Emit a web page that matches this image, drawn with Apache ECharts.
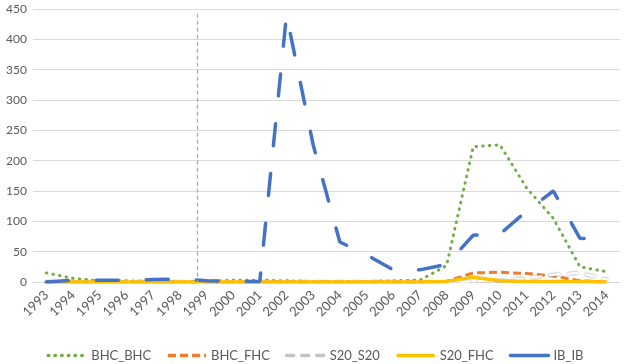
<!DOCTYPE html>
<html>
<head>
<meta charset="utf-8">
<script src="https://cdn.jsdelivr.net/npm/echarts@6/dist/echarts.min.js"></script>
<style>
  html, body { margin: 0; padding: 0; background: #fff; }
  #chart { width: 630px; height: 364px; }
</style>
</head>
<body>
<div id="chart"></div>
<script>
const years = ['1993','1994','1995','1996','1997','1998','1999','2000','2001','2002','2003',
               '2004','2005','2006','2007','2008','2009','2010','2011','2012','2013','2014']

const bhcBhc = [15, 6, 2, 2, 1, 1, 1, 3, 3, 2, 1, 1, 1, 2, 3, 27, 223, 226, 155, 105, 25, 17]
const bhcFhc = [0, 0, 0, 0, 0, 0, 0, 0, 0, 0, 0, 0, 0, 0, 0, 1, 15, 16, 14, 10, 2, 0]
const s20S20 = [0, 0, 0, 0, 0, 0, 0, 0, 0, 0, 0, 0, 0, 0, 0, 0, 1, 2, 6, 12, 15, 4]
const s20Fhc = [0, 0, 0, 0, 0, 0, 0, 0, 0, 0, 0, 0, 0, 0, 0, 1, 8, 2, 1, 1, 1, 0]
const ibIb   = [0, 3, 3, 3, 4, 5, 2, 1, 1, 440, 226, 66, 45, 20, 20, 29, 77, 79, 117, 150, 72, 70]

// divider sits between 1998 and 1999 (category index units)
const dividerAt = 5.67

const chart = echarts.init(document.getElementById('chart'), null, { renderer: 'canvas' })
const font = 'Lato, "Open Sans", sans-serif'
const labelColor = '#595959'

const option = {
  backgroundColor: '#fff',
  animation: false,
  textStyle: { fontFamily: font },
  grid: { left: 33, right: 10, top: 9, bottom: 82, containLabel: false },
  legend: {
    data: [
      'BHC_BHC', 'BHC_FHC',
      { name: 'S20_S20', lineStyle: { color: '#c4c4c4', width: 3.5, type: [7, 8], cap: 'round', shadowBlur: 0 } },
      'S20_FHC',
      { name: 'IB_IB', lineStyle: { type: 'solid', cap: 'round' } },
    ],
    top: 344, left: 'center',
    itemWidth: 38, itemHeight: 10, itemGap: 15,
    itemStyle: { opacity: 0 },
    lineStyle: { width: 3.5 },
    textStyle: { color: labelColor, fontSize: 13, fontFamily: font },
  },
  xAxis: [
    {
      type: 'category', data: years, boundaryGap: true,
      axisLine: { lineStyle: { color: '#d9d9d9' } },
      axisTick: { show: false },
      axisLabel: { color: labelColor, fontSize: 13, rotate: 45, margin: 11, interval: 0 },
    },
    { type: 'value', min: -0.5, max: years.length - 0.5, show: false },
  ],
  yAxis: {
    type: 'value', min: 0, max: 450, interval: 50,
    axisLine: { show: false }, axisTick: { show: false },
    axisLabel: { color: labelColor, fontSize: 12, margin: 6 },
    splitLine: { lineStyle: { color: '#d9d9d9', width: 1 } },
  },
  series: [
    {
      type: 'line', name: 'BHC_BHC', data: bhcBhc, symbol: 'none',
      lineStyle: { color: '#70ad47', width: 3, type: [0.5, 6.2], cap: 'round' },
      itemStyle: { color: '#70ad47' },
    },
    {
      type: 'line', name: 'BHC_FHC', data: bhcFhc, symbol: 'none',
      lineStyle: { color: '#ed7d31', width: 3, type: [8, 4] },
      itemStyle: { color: '#ed7d31' },
    },
    {
      type: 'line', name: 'S20_S20', data: s20S20, symbol: 'none',
      lineStyle: { color: '#ffffff', width: 2.5, type: [9, 9], cap: 'round',
                   shadowColor: '#7a7a7a', shadowBlur: 2 },
      itemStyle: { color: '#bfbfbf' },
    },
    {
      type: 'line', name: 'S20_FHC', data: s20Fhc, symbol: 'none',
      lineStyle: { color: '#ffc000', width: 3.5 },
      itemStyle: { color: '#ffc000' },
    },
    {
      type: 'line', name: 'IB_IB', data: ibIb, symbol: 'none',
      lineStyle: { color: '#4472c4', width: 3.5, type: [22, 28], cap: 'round' },
      itemStyle: { color: '#4472c4' },
      z: 3,
    },
    {
      type: 'line', name: 'divider', xAxisIndex: 1, data: [], symbol: 'none',
      markLine: {
        silent: true, symbol: ['none', 'none'], label: { show: false },
        lineStyle: { color: '#a6a6a6', type: [4, 3], width: 1.2 },
        data: [[{ coord: [dividerAt, 442] }, { coord: [dividerAt, 0] }]],
      },
    },
  ],
}

chart.setOption(option)
</script>
</body>
</html>
